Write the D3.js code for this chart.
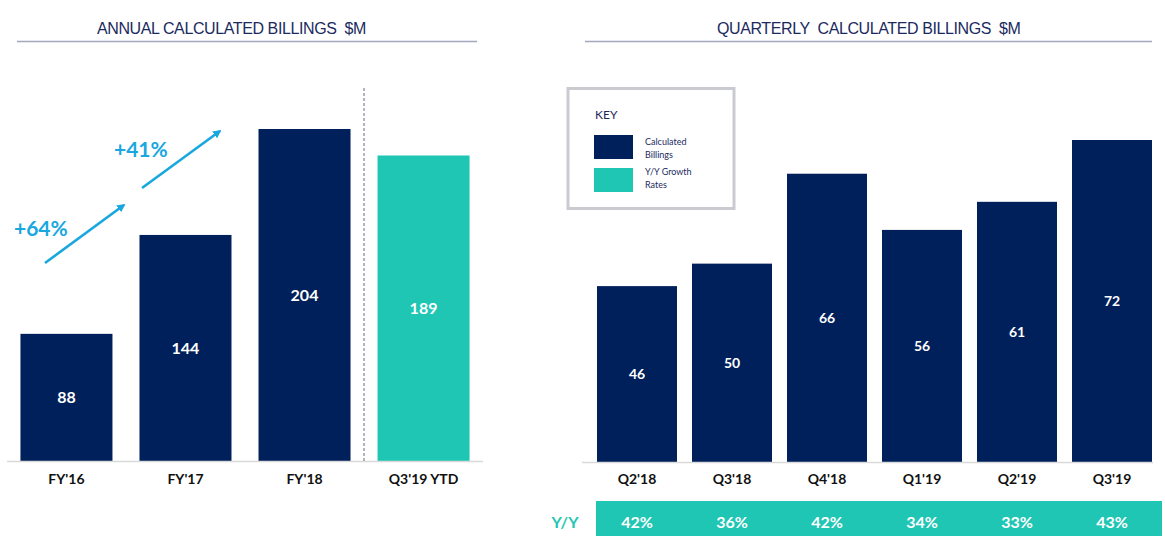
<!DOCTYPE html>
<html>
<head>
<meta charset="utf-8">
<script src="https://cdn.jsdelivr.net/npm/d3@7"></script>
<style>
  body { margin: 0; background: #fff; }
  svg { display: block; }
</style>
</head>
<body>
<span></span>
<script>
let width = 1165;
let height = 543;

// data
let annualCats = ["FY'16", "FY'17", "FY'18", "Q3'19 YTD"];
let annualVals = [88, 144, 204, 189];
let annualGrowth = ["+64%", "+41%"];
let quarterCats = ["Q2'18", "Q3'18", "Q4'18", "Q1'19", "Q2'19", "Q3'19"];
let quarterVals = [46, 50, 66, 56, 61, 72];
let quarterYoY = ["42%", "36%", "42%", "34%", "33%", "43%"];
let legendItems = [["Calculated", "Billings"], ["Y/Y Growth", "Rates"]];

let navy = "#00205b";
let teal = "#1fc6b3";
let titleColor = "#1b2a5e";
let arrowBlue = "#18a7df";

let svg = d3.select("span")
    .append("svg")
    .attr("width", width)
    .attr("height", height);

svg.append("defs").append("marker")
    .attr("id", "head")
    .attr("viewBox", "0 0 10 10")
    .attr("refX", 8).attr("refY", 5)
    .attr("markerWidth", 3.2).attr("markerHeight", 3.2)
    .attr("orient", "auto")
    .append("path")
    .attr("d", "M0,0 L10,5 L0,10 Z")
    .attr("fill", arrowBlue);

// titles
function drawTitle(text, x, x1, x2) {
    svg.append("text")
        .attr("x", x).attr("y", 34)
        .attr("font-family", "Liberation Sans, Arial, sans-serif")
        .attr("font-size", 16)
        .attr("letter-spacing", -0.4)
        .attr("fill", titleColor)
        .style("white-space", "pre")
        .text(text);
    svg.append("line")
        .attr("x1", x1).attr("x2", x2)
        .attr("y1", 41.5).attr("y2", 41.5)
        .attr("stroke", "#a3a7bf").attr("stroke-width", 1.5);
}
drawTitle("ANNUAL CALCULATED BILLINGS  $M", 97, 17, 477);
drawTitle("QUARTERLY  CALCULATED BILLINGS  $M", 717, 585, 1152);

// ---- annual chart ----
let xA = d3.scaleBand()
    .domain(annualCats)
    .range([7, 483])
    .paddingInner(0.227)
    .paddingOuter(0.113);

let yA = d3.scaleLinear()
    .domain([16, 204])
    .range([461, 129]);

let left = svg.append("g");

left.selectAll(".bar")
    .data(annualCats)
    .enter().append("rect")
    .attr("x", d => xA(d))
    .attr("width", xA.bandwidth())
    .attr("y", (d, i) => yA(annualVals[i]))
    .attr("height", (d, i) => yA(yA.domain()[0]) - yA(annualVals[i]))
    .attr("fill", (d, i) => i === 3 ? teal : navy);

left.selectAll(".val")
    .data(annualCats)
    .enter().append("text")
    .attr("x", d => xA(d) + xA.bandwidth() / 2)
    .attr("y", (d, i) => (yA(annualVals[i]) + yA(yA.domain()[0])) / 2 + 6)
    .attr("text-anchor", "middle")
    .attr("font-family", "Lato, Open Sans, sans-serif")
    .attr("font-weight", "bold")
    .attr("font-size", 16)
    .attr("fill", "#fff")
    .text((d, i) => annualVals[i]);

left.append("line")
    .attr("x1", 7).attr("x2", 483)
    .attr("y1", 461.5).attr("y2", 461.5)
    .attr("stroke", "#d9d9d9").attr("stroke-width", 1.5);

let xAxisA = d3.axisBottom(xA).tickSize(0).tickPadding(12);
left.append("g")
    .attr("transform", "translate(0,462)")
    .call(xAxisA)
    .call(g => g.select(".domain").remove())
    .selectAll("text")
    .attr("font-family", "Lato, Open Sans, sans-serif")
    .attr("font-weight", "bold")
    .attr("font-size", 14)
    .attr("fill", "#111");

// dashed separator
let sepX = (xA("FY'18") + xA.bandwidth() + xA("Q3'19 YTD")) / 2;
left.append("line")
    .attr("x1", sepX).attr("x2", sepX)
    .attr("y1", 88).attr("y2", 461)
    .attr("stroke", "#7f8595")
    .attr("stroke-width", 1.2)
    .attr("stroke-dasharray", "3,2");

// growth arrows
let arrows = [
    { x1: 45, y1: 263, x2: 124, y2: 205, lx: 14, ly: 236 },
    { x1: 142, y1: 188, x2: 220, y2: 131, lx: 114, ly: 157 }
];
arrows.forEach(function (a, i) {
    left.append("line")
        .attr("x1", a.x1).attr("y1", a.y1)
        .attr("x2", a.x2).attr("y2", a.y2)
        .attr("stroke", arrowBlue)
        .attr("stroke-width", 2.6)
        .attr("marker-end", "url(#head)");
    left.append("text")
        .attr("x", a.lx).attr("y", a.ly)
        .attr("font-family", "Lato, Open Sans, sans-serif")
        .attr("font-weight", "bold")
        .attr("font-size", 21)
        .attr("fill", arrowBlue)
        .text(annualGrowth[i]);
});

// ---- quarterly chart ----
let xQ = d3.scaleBand()
    .domain(quarterCats)
    .range([589.5, 1159.5])
    .paddingInner(0.158)
    .paddingOuter(0.079);

let yQ = d3.scaleLinear()
    .domain([14.7, 72])
    .range([462, 140]);

let right = svg.append("g");

right.selectAll(".bar")
    .data(quarterCats)
    .enter().append("rect")
    .attr("x", d => xQ(d))
    .attr("width", xQ.bandwidth())
    .attr("y", (d, i) => yQ(quarterVals[i]))
    .attr("height", (d, i) => yQ(yQ.domain()[0]) - yQ(quarterVals[i]))
    .attr("fill", navy);

right.selectAll(".val")
    .data(quarterCats)
    .enter().append("text")
    .attr("x", d => xQ(d) + xQ.bandwidth() / 2)
    .attr("y", (d, i) => (yQ(quarterVals[i]) + yQ(yQ.domain()[0])) / 2 + 5)
    .attr("text-anchor", "middle")
    .attr("font-family", "Lato, Open Sans, sans-serif")
    .attr("font-weight", "bold")
    .attr("font-size", 14)
    .attr("fill", "#fff")
    .text((d, i) => quarterVals[i]);

right.append("line")
    .attr("x1", 582).attr("x2", 1153)
    .attr("y1", 462.5).attr("y2", 462.5)
    .attr("stroke", "#d9d9d9").attr("stroke-width", 1.5);

let xAxisQ = d3.axisBottom(xQ).tickSize(0).tickPadding(11);
right.append("g")
    .attr("transform", "translate(0,463)")
    .call(xAxisQ)
    .call(g => g.select(".domain").remove())
    .selectAll("text")
    .attr("font-family", "Lato, Open Sans, sans-serif")
    .attr("font-weight", "bold")
    .attr("font-size", 14)
    .attr("fill", "#111");

// Y/Y band
right.append("rect")
    .attr("x", 596).attr("y", 501)
    .attr("width", 566).attr("height", 35)
    .attr("fill", teal);

right.append("text")
    .attr("x", 565).attr("y", 528)
    .attr("text-anchor", "middle")
    .attr("font-family", "Lato, Open Sans, sans-serif")
    .attr("font-weight", "bold")
    .attr("font-size", 16)
    .attr("fill", teal)
    .text("Y/Y");

right.selectAll(".yoy")
    .data(quarterCats)
    .enter().append("text")
    .attr("x", d => xQ(d) + xQ.bandwidth() / 2)
    .attr("y", 528)
    .attr("text-anchor", "middle")
    .attr("font-family", "Lato, Open Sans, sans-serif")
    .attr("font-weight", "bold")
    .attr("font-size", 16)
    .attr("fill", "#fff")
    .text((d, i) => quarterYoY[i]);

// legend
let legend = svg.append("g");
legend.append("rect")
    .attr("x", 568).attr("y", 88.5)
    .attr("width", 166).attr("height", 120)
    .attr("fill", "#fff")
    .attr("stroke", "#c9cbd1")
    .attr("stroke-width", 3);

legend.append("text")
    .attr("x", 595).attr("y", 119)
    .attr("font-family", "Lato, Open Sans, sans-serif")
    .attr("font-size", 12)
    .attr("fill", titleColor)
    .text("KEY");

legendItems.forEach(function (lines, i) {
    legend.append("rect")
        .attr("x", 594).attr("y", 135 + i * 33)
        .attr("width", 39).attr("height", 24)
        .attr("fill", i === 0 ? navy : teal);
    lines.forEach(function (t, j) {
        legend.append("text")
            .attr("x", 645).attr("y", 145 + i * 30 + j * 13)
            .attr("font-family", "Lato, Open Sans, sans-serif")
            .attr("font-size", 9)
            .attr("fill", titleColor)
            .text(t);
    });
});
</script>
</body>
</html>
